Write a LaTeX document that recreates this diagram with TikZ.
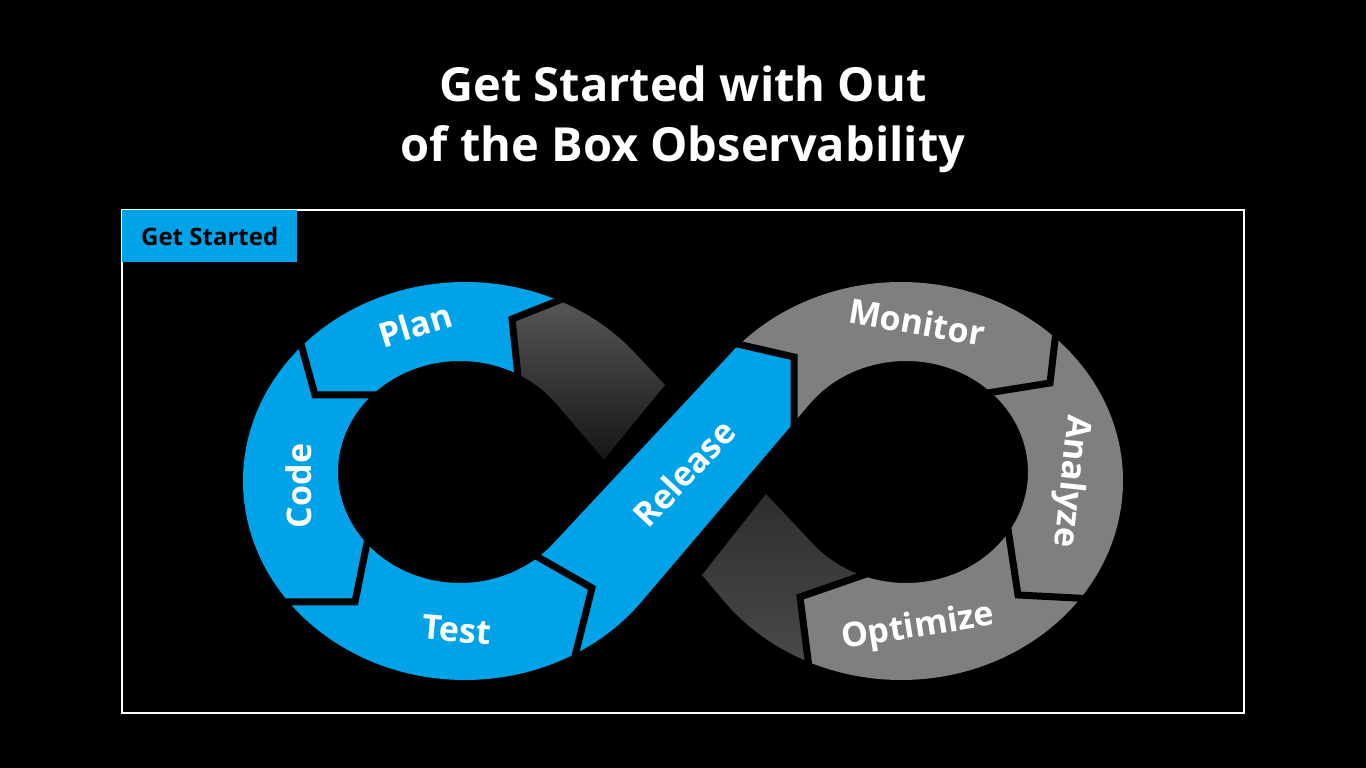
\documentclass[tikz,border=0pt]{standalone}
\usepackage{fontspec}
\setmainfont{Open Sans}
\usetikzlibrary{calc}

\definecolor{loopblue}{RGB}{0,162,232}
\definecolor{loopgray}{RGB}{127,127,127}
\definecolor{darkhi}{RGB}{92,92,92}
\definecolor{darklo}{RGB}{22,22,22}

\begin{document}
\begin{tikzpicture}[
    x=1pt, y=1pt,
    every node/.style={inner sep=0pt},
    title/.style={text=white, font=\fontsize{47}{60}\selectfont\bfseries},
    stage/.style={text=white, font=\fontsize{34}{34}\selectfont\bfseries},
    tag/.style={fill=loopblue, text=black, font=\fontsize{24}{24}\selectfont\bfseries, minimum width=175pt, minimum height=52pt},
    frame/.style={draw=white, line width=1.6pt},
    sep/.style={black, line width=7pt, line join=miter},
    orad/.style={x radius=222, y radius=199},
    hrad/.style={x radius=122, y radius=111}
]

\useasboundingbox (0,0) rectangle (1366,768);
\fill[black] (0,0) rectangle (1366,768);

\node[title, anchor=base] (title1) at (683,666) {Get Started with Out};
\node[title, anchor=base] (title2) at (683,606) {of the Box Observability};

\draw[frame] (122,55) rectangle (1244,558);
\node[tag, anchor=north west] (tag) at (122,558) {Get Started};

% ring centres
\coordinate (LO) at (465,287);
\coordinate (LH) at (460,296);
\coordinate (RO) at (901,287);
\coordinate (RH) at (906,296);

% chevrons between the stages
\coordinate (c1-o) at (293,453); \coordinate (c1-c) at (315,373); \coordinate (c1-i) at (392,373);
\coordinate (c2-o) at (278,166); \coordinate (c2-c) at (355,166); \coordinate (c2-i) at (369,235);
\coordinate (c3-o) at (572,100); \coordinate (c3-c) at (592,180); \coordinate (c3-i) at (522,220);
\coordinate (c4-o) at (720,428); \coordinate (c4-c) at (794,411); \coordinate (c4-i) at (794,330);
\coordinate (c5-o) at (1059,462); \coordinate (c5-c) at (1050,385); \coordinate (c5-i) at (975,373);
\coordinate (c6-o) at (1095,169); \coordinate (c6-c) at (1018,173); \coordinate (c6-i) at (1006,252);
\coordinate (c7-o) at (811,85); \coordinate (c7-c) at (800,171); \coordinate (c7-i) at (875,197);
\coordinate (c8-o) at (585,478); \coordinate (c8-c) at (512,449); \coordinate (c8-i) at (520,373);

% faded crossing band
\begin{scope}
  \clip (c8-o) -- (c8-c) -- (c8-i) -- (556,350) -- (596,300) -- (700,300) -- (700,600) -- (585,600) -- cycle;
  \shade[top color=darkhi, bottom color=darklo]
    ($(LO)+(80:222 and 199)$) arc[start angle=80, end angle=40, orad]
    -- (665,383) -- (604,308.5)
    -- ($(LH)+(37.8:122 and 111)$) arc[start angle=37.8, end angle=95, hrad] -- cycle;
\end{scope}
\begin{scope}
  \clip (c7-i) -- (c7-c) -- (c7-o) -- (811,40) -- (640,40) -- (640,420) -- (880,420) -- cycle;
  \shade[top color=black!82, bottom color=black!70]
    (766,274) -- ($(RH)+(220.5:122 and 111)$) arc[start angle=220.5, end angle=260, hrad]
    -- ($(RO)+(265:222 and 199)$) arc[start angle=265, end angle=217.3, orad]
    -- (702,193) -- cycle;
\end{scope}

% right loop
\begin{scope}
  \clip (c4-o) -- (c4-c) -- (c4-i) -- (c7-i) -- (c7-c) -- (c7-o) -- (811,0) -- (1366,0) -- (1366,768) -- (720,768) -- cycle;
  \fill[loopgray] (760,305.5)
    -- ($(RH)+(142.2:122 and 111)$) arc[start angle=142.2, end angle=-139.5, hrad]
    -- (770,270) -- (702,193)
    -- ($(RO)+(217.3:222 and 199)$) arc[start angle=217.3, end angle=500, orad]
    -- (700,382) -- cycle;
\end{scope}

% left loop and release
\begin{scope}
  \clip (c8-o) -- (c8-c) -- (c8-i) -- (556,350) -- (596,306) -- (615,320) -- (660,420) -- (660,520) -- (c4-o) -- (c4-c) -- (c4-i) -- (800,0) -- (0,0) -- (0,768) -- (600,768) -- cycle;
  \fill[loopblue] (600,313)
    -- ($(LH)+(37.8:122 and 111)$) arc[start angle=37.8, end angle=319.5, hrad]
    -- ($(RO)+(140:222 and 199)$) arc[start angle=140, end angle=110, orad]
    -- ($(RH)+(120:122 and 111)$) arc[start angle=120, end angle=142.2, hrad]
    -- ($(LO)+(-37.3:222 and 199)$) arc[start angle=-37.3, end angle=-320, orad]
    -- cycle;
\end{scope}

\foreach \i in {1,...,8} {
    \draw[sep] (c\i-o) -- (c\i-c) -- (c\i-i);
}

\node[stage, rotate=17] (plan) at (415,443) {Plan};
\node[stage, rotate=90] (code) at (299,282) {Code};
\node[stage, rotate=-5] (test) at (457,138) {Test};
\node[stage, rotate=47] (release) at (684,295) {Release};
\node[stage, rotate=-10] (monitor) at (917,446) {Monitor};
\node[stage, rotate=-96] (analyze) at (1070,287) {Analyze};
\node[stage, rotate=9] (optimize) at (918,140) {Optimize};

\end{tikzpicture}
\end{document}
